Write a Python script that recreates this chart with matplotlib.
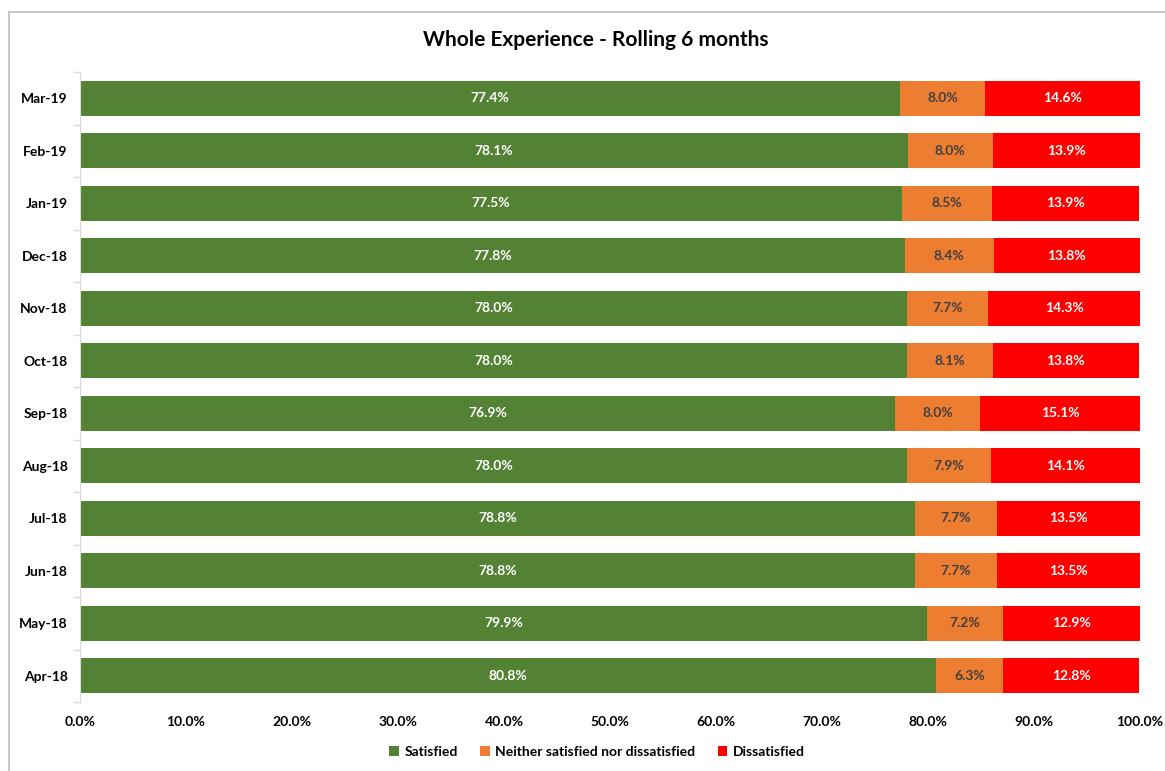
import matplotlib.pyplot as plt
import matplotlib.patches as mpatches
import numpy as np

plt.rcParams['font.family'] = ['Lato', 'DejaVu Sans']
plt.rcParams['font.weight'] = 'bold'

months = ['Apr-18', 'May-18', 'Jun-18', 'Jul-18', 'Aug-18', 'Sep-18',
          'Oct-18', 'Nov-18', 'Dec-18', 'Jan-19', 'Feb-19', 'Mar-19']
satisfied = [80.8, 79.9, 78.8, 78.8, 78.0, 76.9, 78.0, 78.0, 77.8, 77.5, 78.1, 77.4]
neither = [6.3, 7.2, 7.7, 7.7, 7.9, 8.0, 8.1, 7.7, 8.4, 8.5, 8.0, 8.0]
dissatisfied = [12.8, 12.9, 13.5, 13.5, 14.1, 15.1, 13.8, 14.3, 13.8, 13.9, 13.9, 14.6]

series_names = ['Satisfied', 'Neither satisfied nor dissatisfied', 'Dissatisfied']
colors = ['#548235', '#ED7D31', '#FF0000']
text_colors = ['white', '#404040', 'white']

fig = plt.figure(figsize=(11.65, 7.71), dpi=100)
ax = fig.add_axes([80 / 1165, 1 - 702 / 771, 1060 / 1165, 630 / 771])

# grey frame round the chart area
fig.patches.append(mpatches.Rectangle((9 / 1165, -0.1), 1.2, 1 - 12 / 771 + 0.1,
                                      transform=fig.transFigure, fill=False,
                                      edgecolor='#C8C8C8', linewidth=1.5))

y = np.arange(len(months))
left = np.zeros(len(months))
for vals, name, col, tcol in zip([satisfied, neither, dissatisfied], series_names, colors, text_colors):
    vals = np.array(vals)
    bars = ax.barh(y, vals, left=left, height=0.66, color=col, label=name)
    for b, v in zip(bars, vals):
        ax.text(b.get_x() + b.get_width() / 2, b.get_y() + b.get_height() / 2,
                '{:.1f}%'.format(v), ha='center', va='center', color=tcol,
                fontsize=10, fontweight='bold')
    left = left + vals

ax.set_xlim(0, 100)
ax.set_ylim(-0.5, len(months) - 0.5)
ax.set_xticks(np.arange(0, 101, 10))
ax.set_xticklabels(['{:.1f}%'.format(v) for v in np.arange(0, 101, 10)])
ax.set_yticks(y)
ax.set_yticklabels(months)
ax.set_yticks(np.arange(-0.5, len(months), 1), minor=True)
ax.tick_params(axis='y', which='major', length=0, pad=9)
ax.tick_params(axis='y', which='minor', length=5, color='#D9D9D9', width=1)
ax.tick_params(axis='x', length=0, pad=10)
ax.tick_params(labelsize=10)
for s in ['top', 'right', 'bottom']:
    ax.spines[s].set_visible(False)
ax.spines['left'].set_color('#D9D9D9')

fig.text(596 / 1165, 1 - 40 / 771, 'Whole Experience - Rolling 6 months',
         ha='center', va='center', fontsize=15, fontweight='bold')

fig.legend(loc='center', bbox_to_anchor=(597 / 1165, 1 - 752 / 771), ncol=3, frameon=False,
           fontsize=10, handlelength=0.7, handleheight=0.7, columnspacing=1.6, handletextpad=0.4)

fig.savefig('out.png', dpi=100)
